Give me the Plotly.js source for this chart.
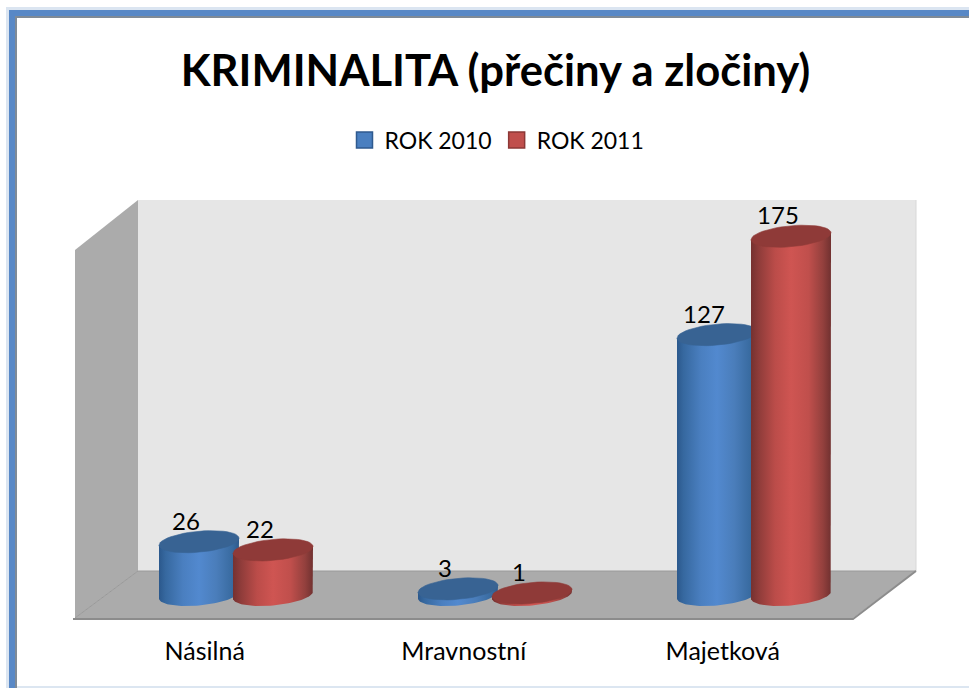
<!DOCTYPE html>
<html>
<head>
<meta charset="utf-8">
<script src="https://cdn.plot.ly/plotly-3.0.1.min.js"></script>
<style>html,body{margin:0;padding:0;background:#fff;overflow:hidden}#c{width:969px;height:688px}</style>
</head>
<body>
<div id="c"></div>
<script>
const categories = ['Násilná', 'Mravnostní', 'Majetková'];
const rok2010 = [26, 3, 127];
const rok2011 = [22, 1, 175];
const seriesNames = ['ROK 2010', 'ROK 2011'];
const chartTitle = 'KRIMINALITA (přečiny a zločiny)';

const W = 969, H = 688, plotH = 625;
const pxPerCat = 259, cat0Px = 204.7;
const basePx = 595, pxPerVal = 2.05;
const FONT = 'Lato, Carlito, Calibri, sans-serif';

const xr = p => (p - cat0Px) / pxPerCat;
const xRange = [xr(0), xr(W)];
const yRange = [(basePx - plotH) / pxPerVal, basePx / pxPerVal];
const xp = p => p / W;
const yp = p => 1 - p / plotH;

const offBlue = (199 - cat0Px) / pxPerCat;
const offRed = (273 - cat0Px) / pxPerCat;
const radiusX = 40, radiusY = 10.5, tilt = 3.5;
const dx = radiusX / pxPerCat, N = 48;

function arc(cx, v, t0, t1) {
  const xs = [], ys = [];
  for (let i = 0; i <= N; i++) {
    const t = t0 + (t1 - t0) * i / N;
    xs.push(cx + dx * Math.cos(t));
    ys.push(v - (radiusY * Math.sin(t) - tilt * Math.cos(t)) / pxPerVal);
  }
  return [xs, ys];
}

const blueGrad = [[0,'#2b588c'],[0.08,'#36689f'],[0.3,'#4a7fc0'],[0.5,'#5289cf'],[0.72,'#4a7dba'],[0.92,'#386a9f'],[1,'#2e5a8c']];
const redGrad = [[0,'#753130'],[0.1,'#8f3c3a'],[0.3,'#bb4c49'],[0.5,'#cf5552'],[0.72,'#c04f4c'],[0.9,'#93403d'],[1,'#713130']];
const looks = [
  {bar:'#4a7fc0', top:'#386393', edge:'#2f5a8f', grad:blueGrad, vals:rok2010, off:offBlue},
  {bar:'#c04f4c', top:'#8f3a38', edge:'#8c3836', grad:redGrad, vals:rok2011, off:offRed}
];

const traces = [];
looks.forEach((s, k) => {
  traces.push({
    type:'bar', name:seriesNames[k], x:categories.map((_, i) => i + s.off), y:s.vals,
    width:0.29, marker:{color:s.bar}, showlegend:false, hoverinfo:'skip'
  });
});
categories.forEach((_, i) => {
  looks.forEach(s => {
    const cx = i + s.off, v = s.vals[i];
    const [bx, by] = arc(cx, 0, 0, Math.PI);
    traces.push({
      type:'scatter', mode:'lines', x:[cx + dx].concat(bx, [cx - dx]), y:[v + tilt / pxPerVal].concat(by, [v - tilt / pxPerVal]),
      fill:'toself', line:{width:0, color:s.bar}, showlegend:false, hoverinfo:'skip',
      fillgradient:{type:'horizontal', colorscale:s.grad}
    });
    const [tx, ty] = arc(cx, v, 0, 2 * Math.PI);
    traces.push({
      type:'scatter', mode:'lines', x:tx, y:ty, fill:'toself', fillcolor:s.top,
      line:{width:0.6, color:s.top}, showlegend:false, hoverinfo:'skip'
    });
  });
});
looks.forEach(s => {
  traces.push({
    type:'scatter', mode:'text', x:categories.map((_, i) => i + s.off - 13 / pxPerCat),
    y:s.vals.map(v => v + 18 / pxPerVal), text:s.vals.map(String), textposition:'middle center',
    textfont:{family:FONT, size:24, color:'#000'}, showlegend:false, hoverinfo:'skip', cliponaxis:false
  });
});
looks.forEach((s, k) => {
  traces.push({
    type:'scatter', mode:'markers', name:seriesNames[k], x:[null], y:[null],
    marker:{symbol:'square', size:16, color:s.bar, line:{color:s.edge, width:1.5}}, hoverinfo:'skip'
  });
});

const poly = (pts, fill, line, lw) => ({
  type:'path', xref:'paper', yref:'paper', layer:'below',
  path:'M' + pts.map(p => xp(p[0]) + ',' + yp(p[1])).join('L') + 'Z',
  fillcolor:fill, line:{color:line || fill, width:lw === undefined ? 0 : lw}
});
const seg = (pts, color, lw) => ({
  type:'path', xref:'paper', yref:'paper', layer:'below',
  path:'M' + pts.map(p => xp(p[0]) + ',' + yp(p[1])).join('L'),
  line:{color:color, width:lw}
});
const rect = (x0, y0, x1, y1, fill) => poly([[x0,y0],[x1,y0],[x1,y1],[x0,y1]], fill);

const shapes = [
  rect(6, 7, 1000, 1000, '#dbe5f1'),
  rect(9, 10, 1000, 1000, '#5888c6'),
  rect(15, 16, 1000, 1000, '#7f8a96'),
  rect(17, 18, 1000, 1000, '#ffffff'),
  rect(17, 686, 1000, 1000, '#dce6f1'),
  poly([[138,200],[916,200],[916,571],[138,571]], '#e6e6e6'),
  poly([[75,250],[138,200],[138,571],[75,618]], '#ababab'),
  poly([[75,618],[138,571],[916,571],[853,618]], '#ababab'),
  seg([[916,200],[916,571]], '#d8d8d8', 1),
  seg([[138,571],[916,571]], '#9a9a9a', 1),
  seg([[75,618],[138,571]], '#999999', 1),
  seg([[73,619],[853,619],[916,571]], '#8c8c8c', 2)
];

const layout = {
  width:W, height:H, margin:{l:0, r:0, t:0, b:H - plotH, pad:0},
  paper_bgcolor:'#ffffff', plot_bgcolor:'rgba(0,0,0,0)',
  showlegend:true, hovermode:false, barmode:'overlay',
  title:{text:'<b>' + chartTitle + '</b>', font:{family:FONT, size:43.6, color:'#000'},
    x:495.5 / W, xanchor:'center', xref:'paper', y:1 - 71 / H, yanchor:'middle', yref:'container'},
  legend:{orientation:'h', x:497 / W, xanchor:'center', y:yp(140), yanchor:'middle',
    font:{family:FONT, size:23, color:'#000'}, bgcolor:'rgba(0,0,0,0)', traceorder:'normal', itemclick:false, itemdoubleclick:false},
  xaxis:{range:xRange, tickmode:'array', tickvals:categories.map((_, i) => i), ticktext:categories,
    showgrid:false, zeroline:false, showline:false, ticks:'', ticklabelstandoff:9, fixedrange:true,
    tickfont:{family:FONT, size:25, color:'#000'}},
  yaxis:{range:yRange, visible:false, showgrid:false, zeroline:false, fixedrange:true},
  shapes:shapes
};
Plotly.newPlot('c', traces, layout, {displayModeBar:false, responsive:false});
</script>
</body>
</html>
